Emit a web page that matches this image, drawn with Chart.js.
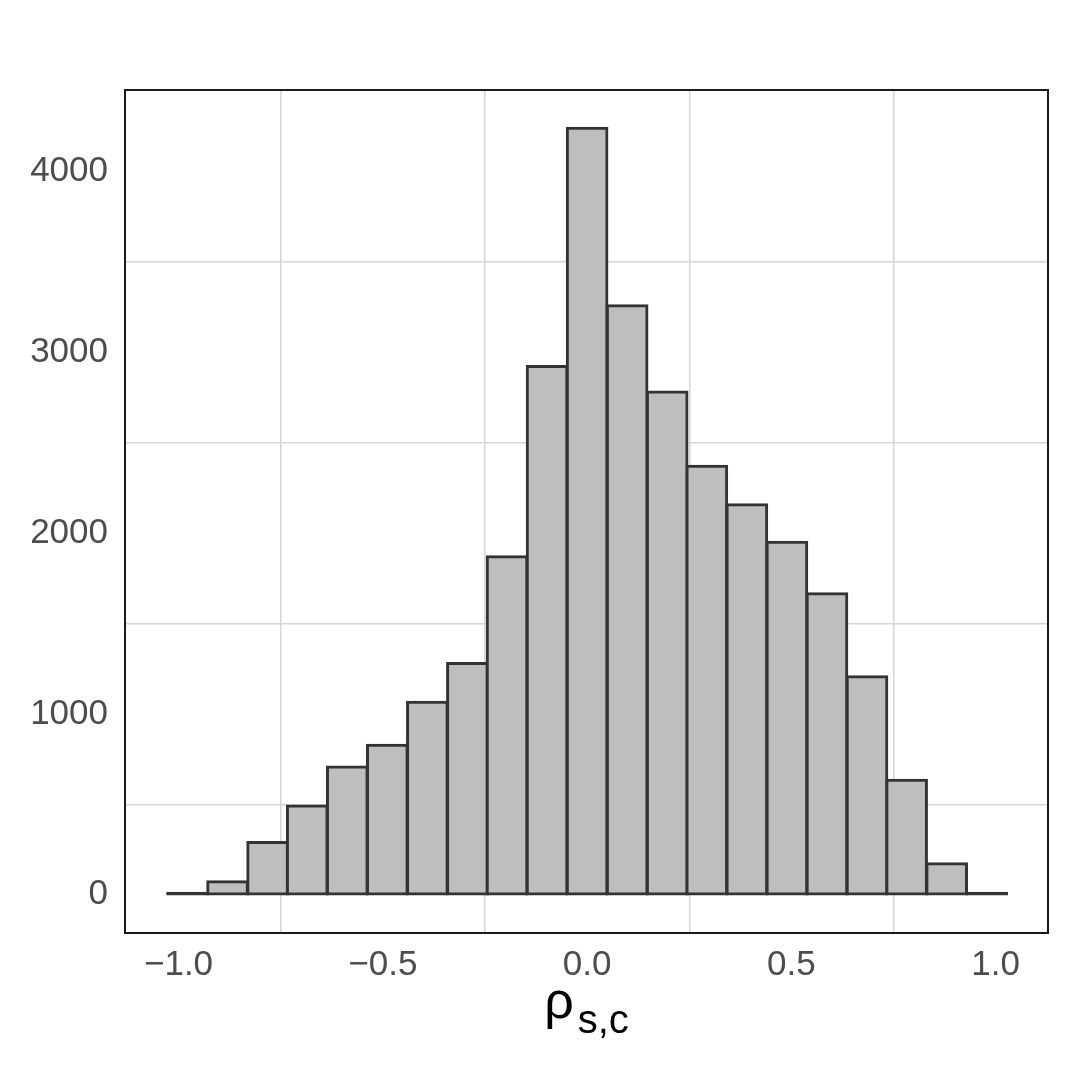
<!DOCTYPE html>
<html>
<head>
<meta charset="utf-8">
<script src="https://cdn.jsdelivr.net/npm/chart.js@4"></script>
<style>
  html, body { margin: 0; padding: 0; background: #fff; }
  canvas { display: block; }
</style>
</head>
<body>
<canvas id="chart" width="1080" height="1080"></canvas>
<script>
// histogram bins (centres) and counts
const binCenters = [-0.978, -0.880, -0.782, -0.685, -0.587, -0.489, -0.391, -0.293, -0.196, -0.098,
  0.000, 0.098, 0.196, 0.293, 0.391, 0.489, 0.587, 0.685, 0.782, 0.880, 0.978];
const counts = [8, 71, 288, 491, 706, 826, 1065, 1279, 1869, 2922,
  4239, 3257, 2780, 2370, 2157, 1949, 1664, 1206, 633, 171, 8];

const xTicks = [-1, -0.75, -0.5, -0.25, 0, 0.25, 0.5, 0.75, 1];
const xLabelled = [-1, -0.5, 0, 0.5, 1];
const yTicks = [0, 500, 1000, 1500, 2000, 2500, 3000, 3500, 4000];
const yLabelled = [0, 1000, 2000, 3000, 4000];

const tickFont = { family: "'Liberation Sans', Arial, sans-serif", size: 35 };
const gridColor = "#d5d5d5";
const barFill = "#bebebe";
const barLine = "#333333";

function isLabelled(list, v) {
  return list.some(t => Math.abs(t - v) < 1e-9);
}

// panel border + axis title with subscript
const panelPlugin = {
  id: "panel",
  afterDraw(c) {
    const ctx = c.ctx;
    const a = c.chartArea;
    ctx.save();
    ctx.strokeStyle = "#1a1a1a";
    ctx.lineWidth = 2;
    ctx.strokeRect(a.left, a.top, a.right - a.left, a.bottom - a.top);

    const mainFont = "52px 'Liberation Sans', Arial, sans-serif";
    const subFont = "40px 'Liberation Sans', Arial, sans-serif";
    ctx.fillStyle = "#000";
    ctx.textBaseline = "alphabetic";
    ctx.textAlign = "left";
    ctx.font = mainFont;
    const wMain = ctx.measureText("ρ").width + 4;
    ctx.font = subFont;
    const wSub = ctx.measureText("s,c").width;
    const x0 = (a.left + a.right) / 2 - (wMain + wSub) / 2;
    ctx.font = mainFont;
    ctx.fillText("ρ", x0, a.bottom + 85);
    ctx.font = subFont;
    ctx.fillText("s,c", x0 + wMain, a.bottom + 100);
    ctx.restore();
  }
};

const ctx = document.getElementById("chart").getContext("2d");
const chart = new Chart(ctx, {
  type: "bar",
  data: {
    datasets: [{
      data: binCenters.map((x, i) => ({ x: x, y: counts[i] })),
      // bars only a pixel or two high show up as a solid outline
      backgroundColor: counts.map(v => v < 30 ? barLine : barFill),
      borderColor: barLine,
      borderWidth: 3,
      borderSkipped: false,
      inflateAmount: 1.5,
      barPercentage: 1,
      categoryPercentage: 1
    }]
  },
  options: {
    responsive: false,
    animation: false,
    layout: { padding: { top: 90, right: 32, left: 0, bottom: 0 } },
    plugins: {
      legend: { display: false },
      tooltip: { enabled: false }
    },
    scales: {
      x: {
        type: "linear",
        offset: false,
        min: -1.131,
        max: 1.128,
        border: { display: false },
        afterFit(scale) { scale.height = 147; },
        afterBuildTicks(scale) { scale.ticks = xTicks.map(v => ({ value: v })); },
        grid: {
          offset: false,
          drawTicks: false,
          lineWidth: 1.5,
          color: c => (c.tick && !isLabelled(xLabelled, c.tick.value)) ? gridColor : "rgba(0,0,0,0)"
        },
        ticks: {
          padding: 11,
          color: "#4d4d4d",
          font: tickFont,
          maxRotation: 0,
          autoSkip: false,
          callback: v => isLabelled(xLabelled, v) ? v.toFixed(1).replace("-", "\u2212") : ""
        }
      },
      y: {
        type: "linear",
        min: -212,
        max: 4451,
        border: { display: false },
        afterFit(scale) { scale.width = 125; },
        afterBuildTicks(scale) { scale.ticks = yTicks.map(v => ({ value: v })); },
        grid: {
          drawTicks: false,
          lineWidth: 1.5,
          color: c => (c.tick && !isLabelled(yLabelled, c.tick.value)) ? gridColor : "rgba(0,0,0,0)"
        },
        ticks: {
          padding: 17,
          color: "#4d4d4d",
          font: tickFont,
          autoSkip: false,
          callback: v => isLabelled(yLabelled, v) ? String(v) : ""
        }
      }
    }
  },
  plugins: [panelPlugin]
});
</script>
</body>
</html>
